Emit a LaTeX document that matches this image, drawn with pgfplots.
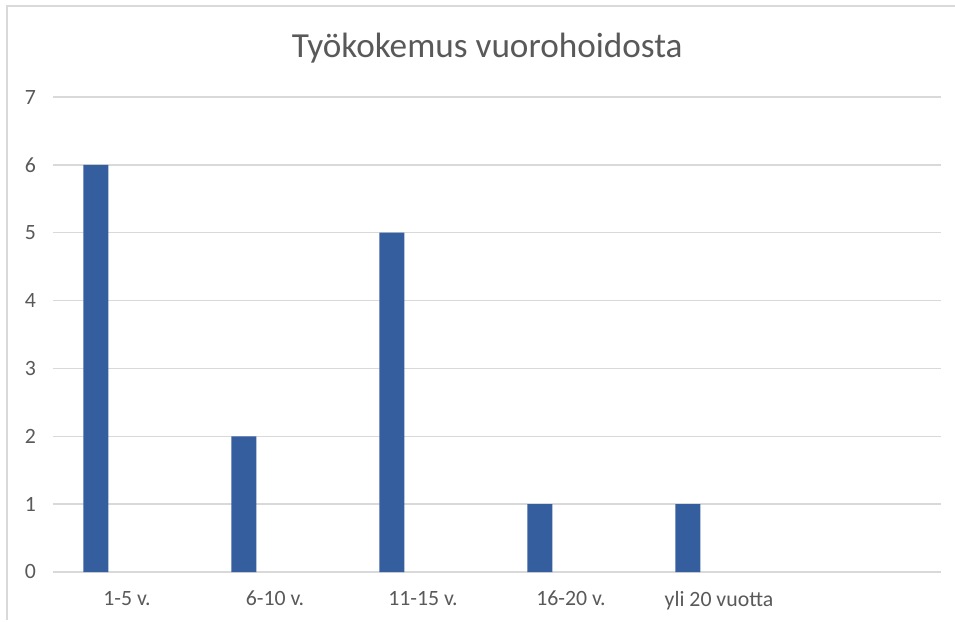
\documentclass[border=0pt]{standalone}
\usepackage{pgfplots}
\pgfplotsset{compat=1.18}
\usepackage{fontspec}
\setmainfont{Carlito}
\definecolor{barblue}{RGB}{53,94,159}
\definecolor{txtgray}{RGB}{89,89,89}
\definecolor{gridgray}{RGB}{217,217,217}
\begin{document}
\begin{tikzpicture}
\useasboundingbox (-26.5pt,-25pt) rectangle (451pt,286pt);
\draw[gridgray, line width=0.8pt] (-23pt,-24pt) -- (-23pt,283pt) -- (452pt,283pt);
\begin{axis}[
  at={(0pt,0pt)}, anchor=south west,
  scale only axis, width=444pt, height=237.5pt,
  xmin=-0.5, xmax=5.5, ymin=0, ymax=7,
  xtick={0,1,2,3,4},
  xticklabels={1-5 v., 6-10 v., 11-15 v., 16-20 v., yli 20 vuotta},
  ytick={0,1,2,3,4,5,6,7},
  ymajorgrids, major grid style={gridgray, line width=0.7pt},
  axis line style={draw=none},
  major tick length=0pt,
  /pgf/number format/assume math mode=true,
  ticklabel style={font=\fontsize{10.9pt}{13pt}\selectfont, text=txtgray},
  yticklabel style={xshift=-5pt},
  xticklabel style={yshift=-6pt},
  title={Työkokemus vuorohoidosta},
  title style={at={(rel axis cs:0.489,1.078)}, anchor=center, font=\fontsize{17.6pt}{20pt}\selectfont, text=txtgray},
  clip=false,
]
\addplot[ybar, bar width=0.169, bar shift=-0.21, fill=barblue, draw=none]
  coordinates {(0,6) (1,2) (2,5) (3,1) (4,1)};
\end{axis}
\end{tikzpicture}
\end{document}
